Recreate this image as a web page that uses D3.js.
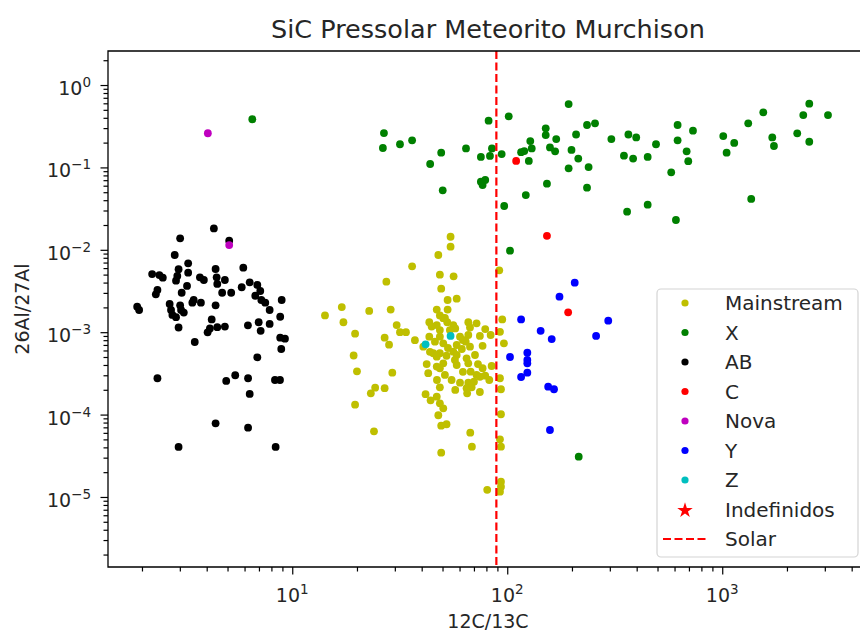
<!DOCTYPE html>
<html>
<head>
<meta charset="utf-8">
<script src="https://cdn.jsdelivr.net/npm/d3@7"></script>
<style>
  html, body { margin: 0; padding: 0; background: #fff; }
  svg { display: block; font-family: "DejaVu Sans", sans-serif; }
</style>
</head>
<body>
<svg id="chart" width="860" height="633"></svg>
<script>
// ---------- DATA (12C/13C, 26Al/27Al) ----------
const mainstream = [
  [54.5,0.0144],[54.5,0.0109],[47.8,0.00865],[36.1,0.00631],[48.6,0.00499],[56.3,0.00477],
  [27.4,0.00410],[49.3,0.00337],[52.8,0.00246],[58.2,0.00255],[17.0,0.00202],[22.8,0.00181],
  [28.7,0.00188],[47.0,0.00188],[52.8,0.00188],[14.2,0.00160],[48.6,0.00160],[17.3,0.00132],
  [43.4,0.00132],[50.4,0.00148],[52.6,0.00132],[47.0,0.00122],[56.1,0.00122],[65.9,0.00132],
  [72.0,0.00128],[30.6,0.00122],[31.7,0.00100],[33.8,0.00100],[44.5,0.00117],[48.6,0.00106],
  [57.3,0.00111],[67.1,0.00114],[79.0,0.00109],[83.7,0.000925],[19.6,0.000959],[26.9,0.000857],
  [37.2,0.000800],[43.4,0.000882],[48.6,0.000882],[60.3,0.000882],[65.9,0.000925],[74.6,0.000900],
  [28.2,0.000705],[40.7,0.000667],[46.1,0.000767],[50.4,0.000733],[58.2,0.000699],[64.1,0.000767],
  [67.1,0.000667],[76.8,0.000683],[48.6,0.000555],[56.1,0.000580],[61.5,0.000625],[45.3,0.000555],
  [19.3,0.000521],[47.0,0.000504],[52.2,0.000518],[58.2,0.000529],[64.7,0.000482],[42.2,0.000410],
  [47.0,0.000383],[50.4,0.000419],[58.2,0.000400],[65.9,0.000419],[76.8,0.000365],[84.6,0.000389],
  [20.0,0.000335],[29.2,0.000323],[42.9,0.000318],[48.6,0.000365],[67.6,0.000332],[72.0,0.000303],
  [79.0,0.000297],[82.5,0.000263],[55.1,0.000263],[60.3,0.000244],[65.9,0.000244],[70.0,0.000251],
  [74.6,0.000288],[64.7,0.000209],[57.3,0.000199],[68.3,0.000214],[74.6,0.000188],[65.1,0.000181],
  [48.6,0.000214],[24.3,0.000212],[26.9,0.000209],[23.2,0.000181],[41.7,0.000177],[44.0,0.000149],
  [47.0,0.000165],[48.6,0.000137],[50.4,0.000119],[19.6,0.000132],[47.8,0.0000981],[49.3,0.0000733],
  [52.2,0.0000763],[24.0,0.0000627],[67.3,0.0000603],[68.5,0.0000408],[49.3,0.0000345],[80.7,0.0000122],
  [91.8,0.00564],[94.8,0.00143],[92.5,0.00101],[96.5,0.000733],[92.5,0.000276],[93.5,0.000203],
  [93.5,0.000101],[92.5,0.0000501],[93.5,0.0000408],[93.5,0.0000153],[93.5,0.0000133],[92.5,0.0000116],
  [51.3,0.00149],[54.1,0.00106],[62.2,0.000804],[53.0,0.000643],[57.1,0.000460],[62.2,0.000330],
  [51.3,0.000303],[47.1,0.000263],[43.7,0.000577],[70.8,0.000529],[73.1,0.000410]
];
const typeX = [
  [6.52,0.384],[26.7,0.261],[26.4,0.172],[31.7,0.191],[36.1,0.213],[43.8,0.110],[49.3,0.151],
  [50.1,0.0527],[64.3,0.170],[75.4,0.134],[83.1,0.138],[84.9,0.170],[81.9,0.369],[101.6,0.417],
  [94.2,0.145],[75.4,0.0671],[79.0,0.0703],[76.8,0.0611],[96.8,0.0340],[103,0.00975],[116,0.153],
  [120,0.158],[126,0.120],[128,0.209],[130,0.170],[122,0.0462],[151,0.298],[151,0.247],[158,0.175],
  [167,0.157],[169,0.221],[153,0.0634],[193,0.588],[209,0.251],[199,0.163],[214,0.128],[193,0.0975],
  [235,0.327],[256,0.343],[239,0.101],[235,0.0567],[305,0.221],[366,0.251],[398,0.231],[349,0.139],
  [385,0.128],[450,0.134],[361,0.0290],[450,0.0353],[492,0.191],[620,0.327],[620,0.213],[731,0.279],
  [683,0.157],[695,0.119],[579,0.0872],[609,0.0230],[1011,0.240],[1137,0.198],[1048,0.151],
  [1321,0.343],[1552,0.466],[1364,0.0414],[1709,0.231],[1740,0.182],[2233,0.259],[2540,0.593],
  [2382,0.432],[2540,0.205],[3104,0.432],[215,0.0000308]
];
const typeAB = [
  [4.32,0.0182],[3.01,0.0138],[5.09,0.0129],[2.84,0.00865],[3.28,0.00686],[5.92,0.00607],
  [4.40,0.00585],[2.96,0.00582],[3.28,0.00527],[2.23,0.00508],[2.41,0.00494],[2.50,0.00459],
  [2.92,0.00481],[3.72,0.00464],[4.45,0.00464],[2.88,0.00422],[3.88,0.00430],[4.86,0.00430],
  [6.34,0.00403],[4.48,0.00385],[6.88,0.00374],[3.24,0.00364],[5.82,0.00351],[2.36,0.00325],
  [3.06,0.00301],[4.72,0.00301],[5.20,0.00301],[7.10,0.00316],[2.32,0.00288],[6.73,0.00277],
  [3.48,0.00246],[3.76,0.00228],[3.43,0.00228],[7.18,0.00246],[7.49,0.00228],[8.93,0.00246],
  [2.69,0.00220],[3.01,0.00212],[4.40,0.00212],[1.90,0.00204],[1.94,0.00186],[2.73,0.00186],
  [3.04,0.00186],[7.85,0.00186],[3.13,0.00173],[2.77,0.00162],[2.88,0.00152],[8.79,0.00154],
  [4.22,0.00143],[6.98,0.00132],[7.85,0.00126],[6.22,0.00121],[4.86,0.00117],[2.96,0.00114],
  [4.48,0.00115],[4.14,0.00111],[7.13,0.00104],[4.04,0.000997],[8.79,0.000857],[9.25,0.000834],
  [3.52,0.000760],[8.89,0.000625],[6.88,0.000496],[2.36,0.000276],[5.43,0.000300],[4.93,0.000256],
  [6.23,0.000276],[8.31,0.000263],[8.77,0.000263],[6.34,0.000178],[4.40,0.0000784],[6.23,0.0000693],
  [2.96,0.0000405],[8.37,0.0000405]
];
const typeC = [[110,0.120],[153,0.0148],[192,0.00174]];
const typeNova = [[4.05,0.26],[5.09,0.0114]];
const typeY = [
  [206,0.00399],[175,0.00270],[116,0.00143],[295,0.00138],[143,0.00104],[161,0.000826],
  [259,0.000900],[103,0.000500],[124,0.000564],[124,0.000460],[124,0.000419],[124,0.000323],
  [116,0.000286],[155,0.000218],[165,0.000203],[158,0.0000650]
];
const typeZ = [[41.7,0.000713],[54.5,0.000900]];
const indefinidos = [];
const solarRatio = 89;

const seriesNames  = ["Mainstream","X","AB","C","Nova","Y","Z","Indefinidos"];
const seriesData   = [mainstream, typeX, typeAB, typeC, typeNova, typeY, typeZ, indefinidos];
const seriesColors = ["#bfbf00","#008000","#000000","#ff0000","#bf00bf","#0000ff","#00bfbf","#ff0000"];
const xMajorTicks = [10, 100, 1000];
const yMajorTicks = [1, 0.1, 0.01, 0.001, 0.0001, 0.00001];

const titleText = "SiC Pressolar Meteorito Murchison";
const xLabelText = "12C/13C";
const yLabelText = "26Al/27Al";

// ---------- LAYOUT ----------
const L = 108, R = 868, T = 51, B = 567;
const svg = d3.select("#chart");

const x = d3.scaleLog().domain([Math.pow(10,0.143), Math.pow(10,3.678)]).range([L, R]);
const y = d3.scaleLog().domain([Math.pow(10,-5.85), Math.pow(10,0.413)]).range([B, T]);

svg.append("defs").append("clipPath").attr("id","plotclip")
  .append("rect").attr("x",L).attr("y",T).attr("width",R-L).attr("height",B-T);

// minor ticks
function minorTicks(scale){
  const [a,b] = scale.domain().map(Math.log10);
  const out = [];
  for (let e = Math.floor(Math.min(a,b)); e <= Math.ceil(Math.max(a,b)); e++) {
    for (let m = 2; m <= 9; m++) {
      const v = m*Math.pow(10,e);
      const lv = Math.log10(v);
      if (lv >= Math.min(a,b) && lv <= Math.max(a,b)) out.push(v);
    }
  }
  return out;
}

const gx = svg.append("g").attr("transform",`translate(0,${B})`);
gx.call(d3.axisBottom(x).tickValues(xMajorTicks).tickFormat("").tickSize(7.5).tickSizeOuter(0));
const gxm = svg.append("g").attr("transform",`translate(0,${B})`);
gxm.call(d3.axisBottom(x).tickValues(minorTicks(x)).tickFormat("").tickSize(4.5).tickSizeOuter(0));
const gy = svg.append("g").attr("transform",`translate(${L},0)`);
gy.call(d3.axisLeft(y).tickValues(yMajorTicks).tickFormat("").tickSize(7.5).tickSizeOuter(0));
const gym = svg.append("g").attr("transform",`translate(${L},0)`);
gym.call(d3.axisLeft(y).tickValues(minorTicks(y)).tickFormat("").tickSize(4.5).tickSizeOuter(0));
[gx,gxm,gy,gym].forEach(g => {
  g.select(".domain").remove();
  g.selectAll(".tick line").attr("stroke","#000").attr("stroke-width",1.2);
});

// tick labels with superscripts
xMajorTicks.forEach(v => {
  const e = Math.round(Math.log10(v));
  const t = svg.append("text").attr("x", x(v)).attr("y", B+35)
    .attr("text-anchor","middle").attr("font-size",19).attr("fill","#262626");
  t.append("tspan").text("10");
  t.append("tspan").attr("dy",-8).attr("font-size",13.5).text(String(e).replace("-","\u2212"));
});
yMajorTicks.forEach(v => {
  const e = Math.round(Math.log10(v));
  const t = svg.append("text").attr("x", L-17).attr("y", y(v)+10)
    .attr("text-anchor","end").attr("font-size",19).attr("fill","#262626");
  t.append("tspan").text("10");
  t.append("tspan").attr("dy",-8).attr("font-size",13.5).text(String(e).replace("-","\u2212"));
});

// points
const plot = svg.append("g").attr("clip-path","url(#plotclip)");
seriesData.forEach((data, i) => {
  plot.append("g").selectAll("circle").data(data).join("circle")
    .attr("cx", d => x(d[0])).attr("cy", d => y(d[1])).attr("r", 3.9)
    .attr("fill", seriesColors[i]);
});

// solar line
plot.append("line").attr("x1", x(solarRatio)).attr("x2", x(solarRatio))
  .attr("y1", T).attr("y2", B)
  .attr("stroke","#ff0000").attr("stroke-width",2.2).attr("stroke-dasharray","8,3.5");

// frame
svg.append("path").attr("d",`M${R},${T}H${L}V${B}H${R}`)
  .attr("fill","none").attr("stroke","#000").attr("stroke-width",1.3);

// title & labels
svg.append("text").attr("x",(L+R)/2).attr("y",38).attr("text-anchor","middle")
  .attr("font-size",25.5).attr("fill","#262626").text(titleText);
svg.append("text").attr("x",(L+R)/2).attr("y",628).attr("text-anchor","middle")
  .attr("font-size",19).attr("fill","#262626").text(xLabelText);
svg.append("text").attr("transform",`translate(29,${(T+B)/2}) rotate(-90)`)
  .attr("text-anchor","middle").attr("font-size",19).attr("fill","#262626").text(yLabelText);

// legend
const lg = svg.append("g");
lg.append("rect").attr("x",657).attr("y",289).attr("width",201).attr("height",268)
  .attr("rx",4).attr("fill","#fff").attr("fill-opacity",0.8)
  .attr("stroke","#d4d4d4").attr("stroke-width",1.2);
const legendNames = seriesNames.concat(["Solar"]);
legendNames.forEach((name, i) => {
  const cy = 303 + i*29.5;
  if (i < 7) {
    lg.append("circle").attr("cx",685).attr("cy",cy).attr("r",3.6).attr("fill",seriesColors[i]);
  } else if (i === 7) {
    lg.append("path").attr("d", d3.symbol().type(d3.symbolStar).size(75)())
      .attr("transform",`translate(685,${cy+1})`).attr("fill",seriesColors[i]);
  } else {
    lg.append("line").attr("x1",663).attr("x2",706).attr("y1",cy).attr("y2",cy)
      .attr("stroke","#ff0000").attr("stroke-width",2.2).attr("stroke-dasharray","8,3.5");
  }
  lg.append("text").attr("x",725).attr("y",cy+7).attr("font-size",20).attr("fill","#262626").text(name);
});
</script>
</body>
</html>
